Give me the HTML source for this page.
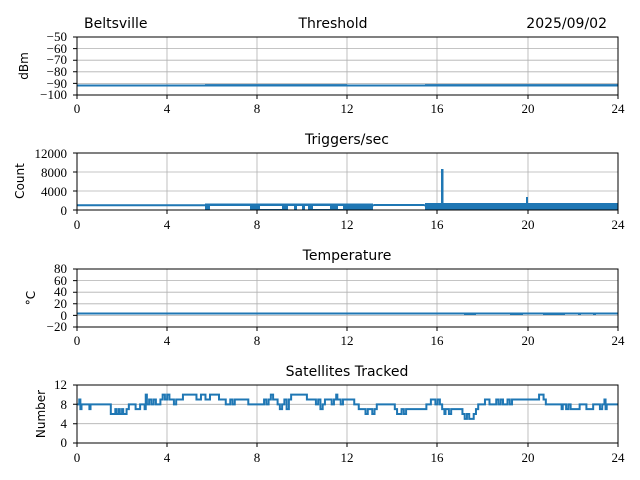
<!DOCTYPE html>
<html><head><meta charset="utf-8"><style>
html,body{margin:0;padding:0;background:#fff}
svg{display:block}
.t{font-family:"DejaVu Sans","Liberation Sans",sans-serif;font-size:14px;fill:#000}
.y{font-family:"DejaVu Sans","Liberation Sans",sans-serif;font-size:12px;fill:#000}
.g{stroke:#b0b0b0;stroke-width:0.8}
.ax{fill:none;stroke:#000;stroke-width:1}
.d{fill:none;stroke:#1f77b4;stroke-width:2;vector-effect:non-scaling-stroke}
</style></head><body>
<svg width="640" height="480" viewBox="0 0 640 480">
<text class="t" x="84" y="28">Beltsville</text>
<text class="t" x="333" y="28" text-anchor="middle">Threshold</text>
<text class="t" x="607" y="28" text-anchor="end">2025/09/02</text>

<g>
<line class="g" x1="167" y1="37" x2="167" y2="95"/><line class="g" x1="257" y1="37" x2="257" y2="95"/><line class="g" x1="347" y1="37" x2="347" y2="95"/><line class="g" x1="437" y1="37" x2="437" y2="95"/><line class="g" x1="528" y1="37" x2="528" y2="95"/>
<line class="g" x1="77" y1="48.6" x2="618" y2="48.6"/><line class="g" x1="77" y1="60.2" x2="618" y2="60.2"/><line class="g" x1="77" y1="71.8" x2="618" y2="71.8"/><line class="g" x1="77" y1="83.4" x2="618" y2="83.4"/>
<line x1="77" y1="85.5" x2="618" y2="85.5" stroke="#1f77b4" stroke-width="2"/>
<rect x="205" y="84" width="142" height="2.5" fill="#1f77b4" opacity="0.8"/>
<rect x="425" y="84" width="193" height="2.5" fill="#1f77b4" opacity="0.8"/>
<rect class="ax" x="77" y="37" width="541" height="58"/>
<text class="y" transform="translate(28,66) rotate(-90)" text-anchor="middle">dBm</text>
</g>

<text class="t" x="347" y="144" text-anchor="middle">Triggers/sec</text>
<g>
<line class="g" x1="167" y1="153" x2="167" y2="210"/><line class="g" x1="257" y1="153" x2="257" y2="210"/><line class="g" x1="347" y1="153" x2="347" y2="210"/><line class="g" x1="437" y1="153" x2="437" y2="210"/><line class="g" x1="528" y1="153" x2="528" y2="210"/>
<line class="g" x1="77" y1="172" x2="618" y2="172"/><line class="g" x1="77" y1="191" x2="618" y2="191"/>
<line x1="77" y1="205.3" x2="618" y2="205.3" stroke="#1f77b4" stroke-width="2"/>
<rect x="205" y="203.5" width="168" height="6.5" fill="#1f77b4"/>
<rect x="425" y="203" width="193" height="7" fill="#1f77b4"/>
<g fill="#fff"><rect x="210" y="206" width="40" height="4"/><rect x="260" y="206" width="22" height="3"/><rect x="288" y="206" width="6" height="4"/><rect x="297" y="206" width="5" height="4"/><rect x="305" y="206" width="3" height="4"/><rect x="313" y="206" width="17" height="3"/><rect x="338" y="206" width="5" height="3"/><rect x="374" y="205" width="50" height="5"/></g>
<rect x="374" y="204" width="50" height="2" fill="#1f77b4"/>
<rect x="441" y="169" width="2.5" height="38" fill="#1f77b4"/>
<rect x="526" y="197" width="2" height="8" fill="#1f77b4"/>
<rect class="ax" x="77" y="153" width="541" height="57"/>
<text class="y" transform="translate(24,181) rotate(-90)" text-anchor="middle">Count</text>
</g>

<text class="t" x="347" y="260" text-anchor="middle">Temperature</text>
<g>
<line class="g" x1="167" y1="269" x2="167" y2="327"/><line class="g" x1="257" y1="269" x2="257" y2="327"/><line class="g" x1="347" y1="269" x2="347" y2="327"/><line class="g" x1="437" y1="269" x2="437" y2="327"/><line class="g" x1="528" y1="269" x2="528" y2="327"/>
<line class="g" x1="77" y1="280.6" x2="618" y2="280.6"/><line class="g" x1="77" y1="292.2" x2="618" y2="292.2"/><line class="g" x1="77" y1="303.8" x2="618" y2="303.8"/><line class="g" x1="77" y1="315.4" x2="618" y2="315.4"/>
<line x1="77" y1="313.5" x2="618" y2="313.5" stroke="#1f77b4" stroke-width="2"/>
<g fill="#1f77b4"><rect x="464" y="313" width="12" height="2"/><rect x="510" y="313" width="13" height="2"/><rect x="543" y="313" width="22" height="2"/><rect x="578" y="313" width="3" height="2"/><rect x="593" y="313" width="3" height="2"/></g>
<rect class="ax" x="77" y="269" width="541" height="58"/>
<text class="y" transform="translate(35,298) rotate(-90)" text-anchor="middle">°C</text>
</g>

<text class="t" x="347" y="376" text-anchor="middle">Satellites Tracked</text>
<g>
<line class="g" x1="167" y1="385" x2="167" y2="443"/><line class="g" x1="257" y1="385" x2="257" y2="443"/><line class="g" x1="347" y1="385" x2="347" y2="443"/><line class="g" x1="437" y1="385" x2="437" y2="443"/><line class="g" x1="528" y1="385" x2="528" y2="443"/>
<line class="g" x1="77" y1="404.3" x2="618" y2="404.3"/><line class="g" x1="77" y1="423.7" x2="618" y2="423.7"/>
<g transform="translate(77,443) scale(22.54,-4.833)">
<path class="d" d="M0 8 H0.1 V9 H0.15 V7 H0.2 V8 H0.55 V7 H0.6 V8 H1.5 V6 H1.7 V7 H1.75 V6 H1.85 V7 H1.9 V6 H2.0 V7 H2.05 V6 H2.2 V7 H2.3 V8 H2.6 V7 H2.8 V8 H3 V7 H3.05 V10 H3.1 V8 H3.2 V9 H3.3 V8 H3.4 V9 H3.5 V8 H3.7 V9 H3.8 V10 H3.9 V9 H4 V10 H4.1 V9 H4.3 V8 H4.4 V9 H4.7 V10 H5.3 V9 H5.5 V10 H5.7 V9 H5.9 V10 H6.3 V9 H6.6 V8 H6.8 V9 H6.9 V8 H7 V9 H7.6 V8 H8.3 V9 H8.4 V8 H8.5 V9 H8.6 V10 H8.7 V9 H8.9 V8 H9 V7 H9.1 V8 H9.2 V9 H9.3 V7 H9.4 V9 H9.5 V10 H10.2 V9 H10.6 V8 H10.7 V9 H10.8 V7 H10.9 V8 H11 V9 H11.3 V8 H11.4 V9 H11.5 V10 H11.55 V9 H11.7 V8 H11.8 V9 H12.3 V8 H12.5 V7 H12.8 V6 H12.9 V7 H13.1 V6 H13.2 V7 H13.3 V8 H14.1 V7 H14.2 V6 H14.4 V7 H14.5 V6 H14.6 V7 H15.5 V8 H15.7 V9 H15.9 V8 H16 V9 H16.1 V8 H16.2 V7 H16.3 V6 H16.35 V7 H16.5 V6 H16.6 V7 H17.1 V6 H17.2 V5 H17.3 V6 H17.4 V5 H17.6 V6 H17.7 V7 H17.8 V8 H18.1 V9 H18.3 V8 H18.6 V9 H18.7 V8 H18.8 V9 H18.9 V8 H19.1 V9 H19.2 V8 H19.3 V9 H20.5 V10 H20.7 V9 H20.8 V8 H21.5 V7 H21.55 V8 H21.7 V7 H21.8 V8 H21.9 V7 H22.3 V8 H22.6 V7 H22.9 V8 H23.2 V7 H23.3 V8 H23.4 V9 H23.45 V7 H23.5 V8 H24"/>
</g>
<rect class="ax" x="77" y="385" width="541" height="58"/>
<text class="y" transform="translate(45,414) rotate(-90)" text-anchor="middle">Number</text>
</g>

<g stroke="#000" stroke-width="1">
<path d="M77 95v4M167 95v4M257 95v4M347 95v4M437 95v4M528 95v4M618 95v4"/>
<path d="M77 210v4M167 210v4M257 210v4M347 210v4M437 210v4M528 210v4M618 210v4"/>
<path d="M77 327v4M167 327v4M257 327v4M347 327v4M437 327v4M528 327v4M618 327v4"/>
<path d="M77 443v4M167 443v4M257 443v4M347 443v4M437 443v4M528 443v4M618 443v4"/>
<path d="M73 37h4M73 48.6h4M73 60.2h4M73 71.8h4M73 83.4h4M73 95h4"/>
<path d="M73 153h4M73 172h4M73 191h4M73 210h4"/>
<path d="M73 269h4M73 280.6h4M73 292.2h4M73 303.8h4M73 315.4h4M73 327h4"/>
<path d="M73 385h4M73 404.3h4M73 423.7h4M73 443h4"/>
</g>
<g font-family="Liberation Serif, DejaVu Serif, serif" font-size="13" fill="#000" text-anchor="end">
<text x="67" y="41">−50</text><text x="67" y="53">−60</text><text x="67" y="64">−70</text><text x="67" y="76">−80</text><text x="67" y="88">−90</text><text x="67" y="99">−100</text>
<text x="67" y="158">12000</text><text x="67" y="177">8000</text><text x="67" y="196">4000</text><text x="67" y="215">0</text>
<text x="67" y="273">80</text><text x="67" y="285">60</text><text x="67" y="296">40</text><text x="67" y="308">20</text><text x="67" y="320">0</text><text x="67" y="331">−20</text>
<text x="67" y="389">12</text><text x="67" y="409">8</text><text x="67" y="428">4</text><text x="67" y="447">0</text>
</g>
<g font-family="Liberation Serif, DejaVu Serif, serif" font-size="13" fill="#000" text-anchor="middle">
<text x="77" y="113">0</text><text x="167" y="113">4</text><text x="257" y="113">8</text><text x="347" y="113">12</text><text x="437" y="113">16</text><text x="528" y="113">20</text><text x="618" y="113">24</text>
<text x="77" y="229">0</text><text x="167" y="229">4</text><text x="257" y="229">8</text><text x="347" y="229">12</text><text x="437" y="229">16</text><text x="528" y="229">20</text><text x="618" y="229">24</text>
<text x="77" y="345">0</text><text x="167" y="345">4</text><text x="257" y="345">8</text><text x="347" y="345">12</text><text x="437" y="345">16</text><text x="528" y="345">20</text><text x="618" y="345">24</text>
<text x="77" y="462">0</text><text x="167" y="462">4</text><text x="257" y="462">8</text><text x="347" y="462">12</text><text x="437" y="462">16</text><text x="528" y="462">20</text><text x="618" y="462">24</text>
</g>
</svg>
</body></html>
